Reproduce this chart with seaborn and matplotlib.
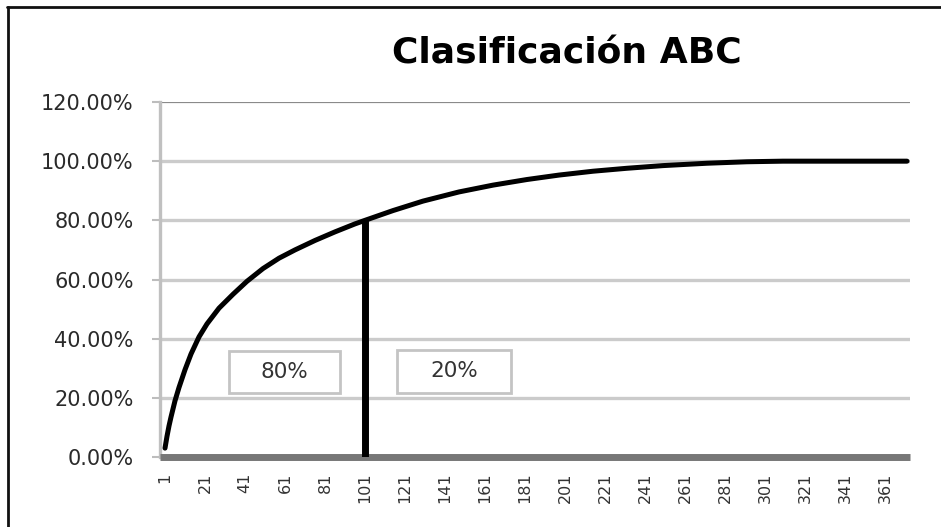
import matplotlib
matplotlib.use("Agg")
import matplotlib.pyplot as plt
from matplotlib.lines import Line2D
from matplotlib.patches import Rectangle
from matplotlib.ticker import FixedLocator, FuncFormatter
import pandas as pd
import seaborn as sns

# Cumulative share of value by item rank (ABC / Pareto analysis)
item_rank = [1, 2, 3, 4, 6, 8, 11, 14, 18, 22, 28, 35, 42, 50, 58, 66, 76,
             86, 96, 101, 115, 130, 148, 165, 182, 198, 215, 232, 250, 272,
             292, 310, 372]
cumulative_pct = [3.0, 7.0, 10.5, 13.5, 19.0, 23.5, 29.5, 34.8, 40.6, 45.0,
                  50.3, 55.0, 59.4, 63.7, 67.2, 70.0, 73.2, 76.1, 78.8, 80.0,
                  83.3, 86.5, 89.6, 91.9, 93.8, 95.3, 96.6, 97.6, 98.5, 99.3,
                  99.8, 100.0, 100.0]

cut_rank = 101          # item where class A ends
cut_pct = 80.0          # cumulative share reached at the cut
class_labels = ["80%", "20%"]

x_tick_values = list(range(1, 362, 20))
y_tick_values = [0, 20, 40, 60, 80, 100, 120]

sns.set_style("white")
plt.rcParams["font.family"] = ["DejaVu Sans"]

fig = plt.figure(figsize=(9.41, 5.27), dpi=100)
ax = fig.add_axes([160 / 941, 1 - 457 / 527, 750 / 941, 355 / 527])

df = pd.DataFrame({"rank": item_rank, "pct": cumulative_pct})
sns.lineplot(data=df, x="rank", y="pct", ax=ax, color="black",
             linewidth=3.6, solid_joinstyle="round", zorder=4)

# Class A boundary
ax.vlines(cut_rank, 0, cut_pct, color="black", linewidth=5, zorder=5)

ax.set_xlim(-1.5, 373.5)
ax.set_ylim(0, 120)

# Horizontal gridlines
for v in y_tick_values[1:-1]:
    ax.axhline(v, color="#cbcbcb", linewidth=2.4, zorder=1)
ax.axhline(120, color="#8a8a8a", linewidth=1.6, zorder=1)

ax.xaxis.set_major_locator(FixedLocator(x_tick_values))
ax.yaxis.set_major_locator(FixedLocator(y_tick_values))
ax.yaxis.set_major_formatter(FuncFormatter(lambda v, p: f"{v:.2f}%"))
ax.set_xticklabels([str(v) for v in x_tick_values], rotation=90,
                   va="top", ha="center")
ax.set_xlabel("")
ax.set_ylabel("")

ax.tick_params(axis="x", length=0, pad=11, labelsize=11.5, colors="#333333")
ax.tick_params(axis="y", length=6, width=1.5, color="#bdbdbd", pad=13,
               labelsize=15, labelcolor="#2a2a2a", left=True)

for side in ("top", "right"):
    ax.spines[side].set_visible(False)
ax.spines["left"].set_color("#c0c0c0")
ax.spines["left"].set_linewidth(2.4)
ax.spines["bottom"].set_color("#777777")
ax.spines["bottom"].set_linewidth(5)
ax.spines["bottom"].set_capstyle("butt")
ax.spines["bottom"].set_zorder(3)

# Class share boxes
box_specs = [((33, 21.6), 55.5, 14.1), ((117, 21.8), 57, 14.5)]
for label, (xy, w, h) in zip(class_labels, box_specs):
    ax.add_patch(Rectangle(xy, w, h, facecolor="white", edgecolor="#c4c4c4",
                           linewidth=2, zorder=6))
    ax.text(xy[0] + w / 2, xy[1] + h / 2, label, ha="center", va="center",
            fontsize=15.5, color="#333333", zorder=7)

fig.text(567 / 941, 1 - 54 / 527, "Clasificación ABC", ha="center",
         va="center", fontsize=26, fontweight="bold",
         family=["DejaVu Sans"], color="black")

# Chart frame
fig.add_artist(Line2D([7 / 941, 1], [1 - 6.5 / 527, 1 - 6.5 / 527],
                      color="#111111", linewidth=2, transform=fig.transFigure))
fig.add_artist(Line2D([7.5 / 941, 7.5 / 941], [0, 1 - 6.5 / 527],
                      color="#111111", linewidth=2, transform=fig.transFigure))

fig.savefig("out.png", dpi=100)
